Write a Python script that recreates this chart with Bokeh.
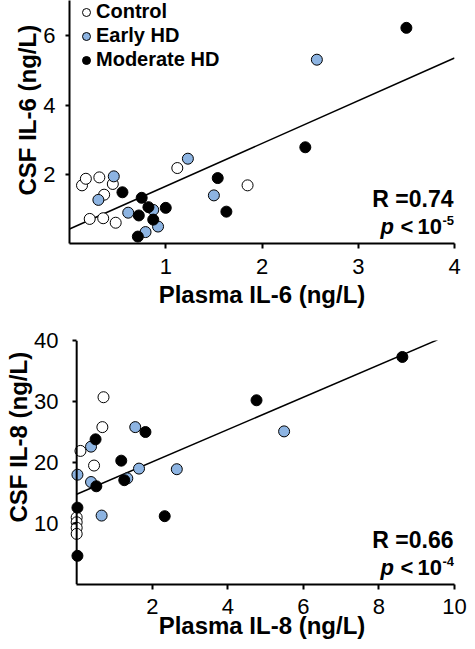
import numpy as np
from bokeh.plotting import figure
from bokeh.models import Range1d, FixedTicker, Label, Legend, LegendItem, Title, Span
from bokeh.layouts import column
from bokeh.embed import file_html
from bokeh.resources import INLINE

# ---------------- data ----------------
group_names = ["Control", "Early HD", "Moderate HD"]

# IL-6 panel (ng/L)
control_x6 = [0.13, 0.17, 0.31, 0.45, 0.36, 0.21, 0.35, 0.48, 1.12, 1.85]
control_y6 = [1.68, 1.87, 1.91, 1.72, 1.41, 0.71, 0.73, 0.60, 2.18, 1.68]
early_x6 = [0.30, 0.46, 0.61, 0.79, 0.87, 0.92, 1.23, 1.50, 2.57]
early_y6 = [1.26, 1.94, 0.89, 0.33, 0.97, 0.49, 2.45, 1.39, 5.31]
moderate_x6 = [0.55, 0.75, 0.72, 0.82, 0.87, 0.71, 1.00, 1.54, 1.63, 2.45, 3.50]
moderate_y6 = [1.48, 1.32, 0.81, 1.05, 0.69, 0.20, 1.03, 1.89, 0.92, 2.78, 6.23]
fit6_intercept = 0.42
fit6_slope = 1.235
fit6_xspan = [0.0, 4.0]
xticks6 = [1, 2, 3, 4]
yticks6 = [2, 4, 6]
stats6 = ["R =0.74", "p", "<", "10", "-5"]

# IL-8 panel (ng/L)
control_x8 = [0.10, 0.71, 0.68, 0.46, 0.0, 0.0, 0.0, 0.0]
control_y8 = [21.9, 30.7, 25.8, 19.5, 11.0, 10.2, 9.3, 8.3]
early_x8 = [0.02, 0.38, 0.38, 0.66, 1.55, 1.65, 2.65, 1.34, 5.49]
early_y8 = [18.0, 22.6, 16.8, 11.3, 25.8, 19.0, 18.9, 17.4, 25.1]
moderate_x8 = [0.02, 0.02, 0.50, 0.52, 1.18, 1.26, 1.82, 2.33, 4.76, 8.62]
moderate_y8 = [12.6, 4.7, 23.8, 16.1, 20.3, 17.1, 25.0, 11.2, 30.2, 37.3]
fit8_intercept = 14.8
fit8_slope = 2.65
fit8_xspan = [0.0, 9.55]
xticks8 = [2, 4, 6, 8, 10]
yticks8 = [10, 20, 30, 40]
stats8 = ["R =0.66", "p", "<", "10", "-4"]

# ---------------- style ----------------
FONT = "Liberation Sans"
BLUE = "#8DB4E2"
fills = ["white", BLUE, "black"]


def style(p, xticks, yticks, xlabel, xl_standoff, xa_standoff, ylabel, y_offset):
    p.grid.visible = False
    p.outline_line_color = None
    for ax in (p.xaxis[0], p.yaxis[0]):
        ax.minor_tick_line_color = None
        ax.major_tick_in = 0
        ax.axis_line_width = 2
        ax.major_tick_line_width = 2
        ax.axis_line_color = "black"
        ax.major_tick_line_color = "black"
        ax.major_label_text_font = FONT
        ax.major_label_text_font_size = "22px"
        ax.major_label_text_color = "black"
    p.xaxis[0].ticker = FixedTicker(ticks=xticks)
    p.yaxis[0].ticker = FixedTicker(ticks=yticks)
    p.xaxis[0].major_tick_out = 5
    p.xaxis[0].minor_tick_out = 5
    p.yaxis[0].major_tick_out = 4
    p.yaxis[0].minor_tick_out = 4
    p.xaxis[0].major_label_standoff = xl_standoff
    p.yaxis[0].major_label_standoff = 10
    p.xaxis[0].axis_label = xlabel
    p.xaxis[0].axis_label_text_font = FONT
    p.xaxis[0].axis_label_text_font_size = "24px"
    p.xaxis[0].axis_label_text_font_style = "bold"
    p.xaxis[0].axis_label_text_color = "black"
    p.xaxis[0].axis_label_standoff = xa_standoff
    p.add_layout(Title(text=ylabel, align="left", offset=y_offset, standoff=0,
                       text_font=FONT, text_font_size="24px", text_font_style="bold",
                       text_color="black"), "left")


def add_stats(p, xanchor, texts):
    common = dict(x=xanchor, y=0, x_units="data", y_units="data", text_font=FONT,
                  text_color="black", text_baseline="alphabetic")
    p.add_layout(Label(text=texts[0], text_align="right", x_offset=-1, y_offset=45,
                       text_font_size="23px", text_font_style="bold", **common))
    p.add_layout(Label(text=texts[1], text_align="left", x_offset=-74, y_offset=17,
                       text_font_size="22px", text_font_style="bold italic", **common))
    p.add_layout(Label(text=texts[2], text_align="left", x_offset=-54, y_offset=17,
                       text_font_size="22px", text_font_style="bold", **common))
    p.add_layout(Label(text=texts[3], text_align="left", x_offset=-37, y_offset=17,
                       text_font_size="22px", text_font_style="bold", **common))
    p.add_layout(Label(text=texts[4], text_align="left", x_offset=-12, y_offset=23,
                       text_font_size="13px", text_font_style="bold", **common))


# ---------------- top panel ----------------
p1 = figure(width=467, height=318, x_range=Range1d(0, 4), y_range=Range1d(0, 7.02),
            output_backend="svg", toolbar_location=None,
            min_border_left=69, min_border_right=7, min_border_top=0, min_border_bottom=75)
style(p1, xticks6, yticks6, "Plasma IL-6 (ng/L)", 10, 4, "CSF IL-6 (ng/L)", 48)

fx6 = np.array(fit6_xspan)
p1.line(fx6, fit6_intercept + fit6_slope * fx6, line_color="black", line_width=1.5)
rs = []
for xs, ys, fc in zip([control_x6, early_x6, moderate_x6], [control_y6, early_y6, moderate_y6], fills):
    rs.append(p1.scatter(xs, ys, size=11, fill_color=fc, line_color="black", line_width=1))

legend = Legend(items=[LegendItem(label=n, renderers=[r]) for n, r in zip(group_names, rs)],
                location=(7, 172), glyph_width=20, glyph_height=20, label_height=20,
                label_width=10, spacing=1, padding=0, margin=0, label_standoff=0,
                background_fill_alpha=0, border_line_color=None,
                label_text_font=FONT, label_text_font_size="20px",
                label_text_font_style="bold", label_text_color="black")
p1.add_layout(legend)
add_stats(p1, 4, stats6)

# ---------------- bottom panel ----------------
p2 = figure(width=467, height=323, x_range=Range1d(-0.19, 10), y_range=Range1d(0, 40),
            output_backend="svg", toolbar_location=None,
            min_border_left=62, min_border_right=13, min_border_top=22, min_border_bottom=55)
style(p2, xticks8, yticks8, "Plasma IL-8 (ng/L)", 9, -5, "CSF IL-8 (ng/L)", 62)
# y axis drawn at x = 0 (slightly inside the frame so that points at 0 are whole)
ya = p2.yaxis[0]
ya.axis_line_color = None
ya.major_tick_in = 7
ya.major_tick_out = -3
ya.minor_tick_out = -3
ya.major_label_standoff = 11
p2.xaxis[0].bounds = (0, 10)
p2.add_layout(Span(location=0, dimension="height", line_color="black", line_width=2))

fx8 = np.array(fit8_xspan)
p2.line(fx8, fit8_intercept + fit8_slope * fx8, line_color="black", line_width=1.5)
for xs, ys, fc in zip([control_x8, early_x8, moderate_x8], [control_y8, early_y8, moderate_y8], fills):
    p2.scatter(xs, ys, size=11, fill_color=fc, line_color="black", line_width=1)
add_stats(p2, 10, stats8)

layout = column(p1, p2)
open("out.html", "w").write(file_html(layout, INLINE))
